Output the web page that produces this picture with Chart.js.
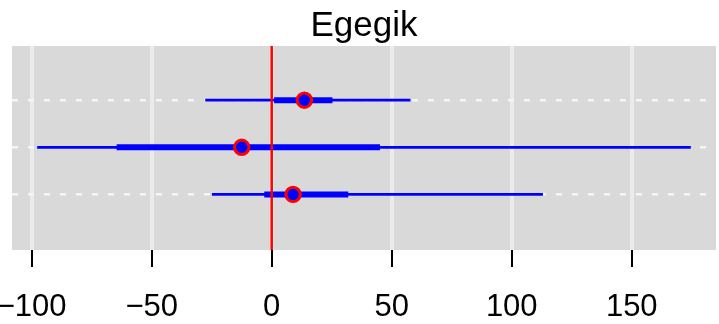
<!DOCTYPE html>
<html>
<head>
<meta charset="utf-8">
<script src="https://cdn.jsdelivr.net/npm/chart.js@4"></script>
<style>
html,body{margin:0;padding:0;background:#fff;}
canvas{display:block;}
</style>
</head>
<body>
<canvas id="c" width="719" height="324"></canvas>
<script>
// Rows, bottom to top (y positions 1..3)
const rowIds   = [1, 2, 3];
const lo95     = [-24.9, -97.7, -27.7];
const lo50     = [-3.1, -64.6, 1.0];
const estimate = [8.9, -12.5, 13.6];
const hi50     = [31.9, 45.1, 25.3];
const hi95     = [113.0, 174.6, 57.8];
const xTicks   = [-100, -50, 0, 50, 100, 150];
const refValue = 0;
const titleText = 'Egegik';

const X_MIN = -108.2, X_MAX = 185.1;
const Y_MIN = -0.18, Y_MAX = 4.15;

const datasets = [];
rowIds.forEach((r, i) => {
  datasets.push({
    type: 'line', order: 3,
    data: [{x: lo95[i], y: r}, {x: hi95[i], y: r}],
    borderColor: '#0000ff', borderWidth: 2.8, pointRadius: 0, fill: false
  });
  datasets.push({
    type: 'line', order: 2,
    data: [{x: lo50[i], y: r}, {x: hi50[i], y: r}],
    borderColor: '#0000ff', borderWidth: 6, pointRadius: 0, fill: false
  });
});
datasets.push({
  type: 'line', order: 1,
  data: [{x: refValue, y: Y_MIN}, {x: refValue, y: Y_MAX}],
  borderColor: '#ff0000', borderWidth: 2.5, pointRadius: 0, fill: false
});
datasets.push({
  type: 'scatter', order: 0,
  data: rowIds.map((r, i) => ({x: estimate[i], y: r})),
  backgroundColor: '#0000ff', borderColor: '#ff0000', borderWidth: 3,
  pointRadius: 7.2, pointHoverRadius: 7.2
});

const panelBg = {
  id: 'panelBg',
  beforeDraw(chart) {
    const {ctx, chartArea: a} = chart;
    ctx.save();
    ctx.fillStyle = '#d9d9d9';
    ctx.fillRect(a.left, a.top, a.right - a.left, a.bottom - a.top);
    ctx.restore();
  }
};

new Chart(document.getElementById('c'), {
  type: 'scatter',
  data: {datasets},
  options: {
    responsive: false,
    devicePixelRatio: 1,
    animation: false,
    layout: {autoPadding: false, padding: {left: 12, right: 3, top: 0, bottom: 0}},
    plugins: {
      legend: {display: false},
      tooltip: {enabled: false},
      title: {
        display: true, text: titleText, color: '#000',
        font: {family: 'Liberation Sans', size: 35, weight: 'normal', lineHeight: 1.0},
        padding: {top: 9, bottom: 2}
      }
    },
    scales: {
      x: {
        type: 'linear', min: X_MIN, max: X_MAX,
        afterBuildTicks: s => { s.ticks = xTicks.map(v => ({value: v})); },
        afterFit: s => { s.height = 74; s.paddingLeft = 0; s.paddingRight = 0; },
        ticks: {
          color: '#000', padding: 22,
          font: {family: 'Liberation Sans', size: 31},
          maxRotation: 0, autoSkip: false,
          callback: v => v < 0 ? '\u2212' + Math.abs(v) : String(v)
        },
        grid: {color: '#ebebeb', lineWidth: 4, drawTicks: true, tickLength: 17, tickColor: '#000', tickWidth: 2},
        border: {display: false}
      },
      y: {
        type: 'linear', min: Y_MIN, max: Y_MAX,
        afterBuildTicks: s => { s.ticks = rowIds.map(v => ({value: v})); },
        afterFit: s => { s.width = 0; s.paddingTop = 0; s.paddingBottom = 0; },
        ticks: {display: false},
        grid: {color: '#f5f5f5', lineWidth: 2.5, drawTicks: false},
        border: {display: false, dash: [6, 10]}
      }
    }
  },
  plugins: [panelBg]
});
</script>
</body>
</html>
